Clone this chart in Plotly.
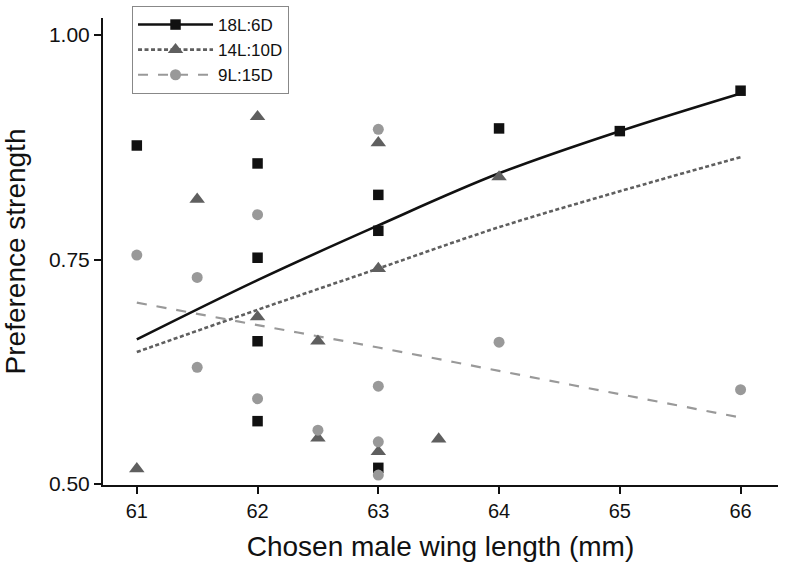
import plotly.graph_objects as go

# ---- data ----
sq_x = [61, 62, 62, 62, 62, 63, 63, 63, 64, 65, 66]
sq_y = [0.877, 0.857, 0.752, 0.659, 0.570, 0.822, 0.782, 0.518, 0.896, 0.893, 0.938]

tri_x = [61, 61.5, 62, 62, 62.5, 62.5, 63, 63, 63, 63.5, 64]
tri_y = [0.517, 0.817, 0.909, 0.686, 0.659, 0.551, 0.880, 0.740, 0.536, 0.550, 0.842]

cir_x = [61, 61.5, 61.5, 62, 62, 62.5, 63, 63, 63, 63, 64, 66]
cir_y = [0.755, 0.730, 0.630, 0.800, 0.595, 0.560, 0.895, 0.609, 0.547, 0.510, 0.658, 0.605]

fit_x = [61, 62, 63, 64, 65, 66]
fit_18 = [0.661, 0.727, 0.788, 0.846, 0.893, 0.935]
fit_14 = [0.647, 0.694, 0.740, 0.786, 0.826, 0.864]
fit_9 = [0.702, 0.677, 0.652, 0.626, 0.600, 0.574]

series_names = ["18L:6D", "14L:10D", "9L:15D"]
x_ticks = [61, 62, 63, 64, 65, 66]
y_ticks = [0.50, 0.75, 1.00]

C18, C14, C9 = "#111111", "#5f5f5f", "#999999"

fig = go.Figure()

specs = [
    (series_names[0], sq_x, sq_y, fit_18, C18, "square", 10.5, "solid", 2.6),
    (series_names[1], tri_x, tri_y, fit_14, C14, "triangle-up", 13.5, "4px,2.5px", 2.6),
    (series_names[2], cir_x, cir_y, fit_9, C9, "circle", 11, "10px,10px", 2.2),
]

for name, xs, ys, fy, col, sym, ms, dash, lw in specs:
    fig.add_trace(go.Scatter(x=fit_x, y=fy, mode="lines", showlegend=False,
                             line=dict(color=col, width=lw, dash=dash, shape="spline"),
                             hoverinfo="skip"))
for name, xs, ys, fy, col, sym, ms, dash, lw in specs:
    fig.add_trace(go.Scatter(x=xs, y=ys, mode="markers", showlegend=False, name=name,
                             marker=dict(symbol=sym, color=col, size=ms, line=dict(width=0))))
for name, xs, ys, fy, col, sym, ms, dash, lw in specs:
    fig.add_trace(go.Scatter(x=[None], y=[None], mode="lines+markers", name=name,
                             line=dict(color=col, width=lw, dash=dash),
                             marker=dict(symbol=sym, color=col, size=ms, line=dict(width=0))))

font = "Liberation Sans, Arial, sans-serif"
fig.update_layout(
    width=787, height=570,
    margin=dict(l=103, r=9, t=6, b=85, autoexpand=False),
    plot_bgcolor="white", paper_bgcolor="white",
    font=dict(family=font, color="#111111"),
    legend=dict(x=0.043, y=1.0, xanchor="left", yanchor="top",
                bordercolor="#888888", borderwidth=1, bgcolor="white",
                font=dict(size=17, family=font), itemwidth=75, tracegroupgap=0),
    xaxis=dict(range=[60.72, 66.31], tickvals=x_ticks, ticktext=[str(v) for v in x_ticks],
               automargin=False,
               showline=True, linecolor="#111111", linewidth=2, ticks="outside",
               ticklen=7, tickwidth=1.5, tickcolor="#111111", showgrid=False, zeroline=False,
               tickfont=dict(size=20), title=dict(text="Chosen male wing length (mm)",
                                                   font=dict(size=28))),
    yaxis=dict(range=[0.4989, 1.019], domain=[0, 0.975], tickvals=y_ticks,
               ticktext=["0.50", "0.75", "1.00"], automargin=False,
               showline=True, linecolor="#111111", linewidth=2, ticks="outside",
               ticklen=7, tickwidth=1.5, tickcolor="#111111", showgrid=False, zeroline=False,
               tickfont=dict(size=21), title=dict(text="Preference strength",
                                                   font=dict(size=28))),
)

fig.write_html("out.html", config={"displayModeBar": False},
               post_script="document.body.style.margin='0';")
